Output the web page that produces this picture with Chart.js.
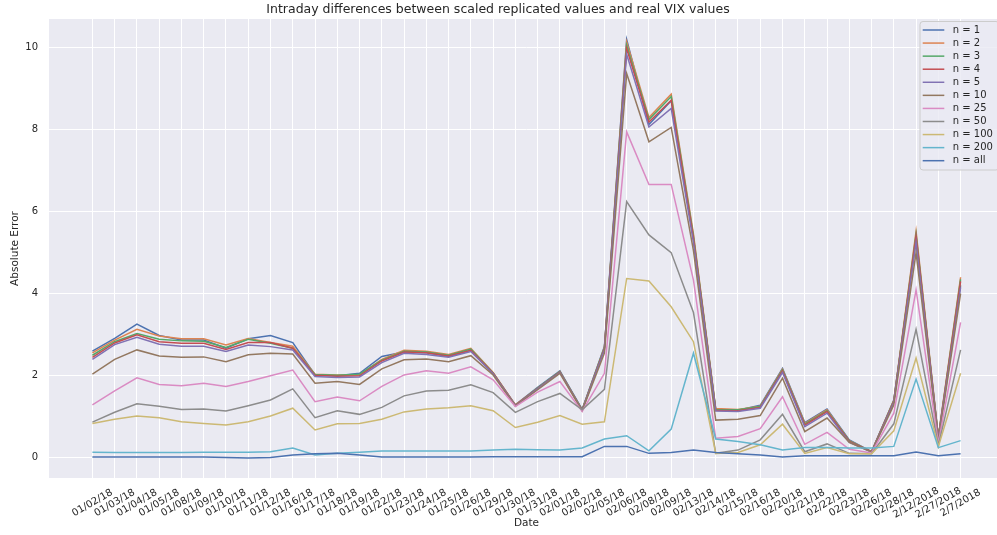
<!DOCTYPE html>
<html>
<head>
<meta charset="utf-8">
<script src="https://cdn.jsdelivr.net/npm/chart.js@4.4.0/dist/chart.umd.min.js"></script>
<style>
html, body { margin: 0; padding: 0; overflow: hidden; background: #ffffff; }
#wrap { width: 1010px; height: 535px; position: relative; }
</style>
</head>
<body>
<div id="wrap"><canvas id="vixChart"></canvas></div>
<script>
// ------------------------------------------
// data
// ------------------------------------------
const dates = ["01/02/18","01/03/18","01/04/18","01/05/18","01/08/18","01/09/18","01/10/18","01/11/18",
  "01/12/18","01/16/18","01/17/18","01/18/18","01/19/18","01/22/18","01/23/18","01/24/18","01/25/18",
  "01/26/18","01/29/18","01/30/18","01/31/18","02/01/18","02/02/18","02/05/18","02/06/18","02/08/18",
  "02/09/18","02/13/18","02/14/18","02/15/18","02/16/18","02/20/18","02/21/18","02/22/18","02/23/18",
  "02/26/18","02/28/18","2/12/2018","2/27/2018","2/7/2018"];

const n1 = [2.60,2.91,3.26,2.98,2.87,2.87,2.67,2.90,2.98,2.81,2.02,2.00,2.06,2.47,2.58,2.56,2.47,2.62,2.06,1.29,
  1.72,2.12,1.18,2.71,10.19,8.12,8.70,5.35,1.18,1.16,1.28,2.18,0.86,1.19,0.44,0.15,1.41,5.35,0.50,4.20];
const n2 = [2.56,2.87,3.13,2.97,2.90,2.90,2.75,2.91,2.81,2.72,2.04,2.02,2.02,2.40,2.62,2.60,2.52,2.67,2.08,1.29,
  1.70,2.10,1.17,2.69,10.13,8.29,8.86,5.45,1.20,1.18,1.26,2.16,0.84,1.17,0.42,0.15,1.40,5.52,0.52,4.40];
const n3 = [2.50,2.83,3.03,2.89,2.85,2.84,2.69,2.89,2.79,2.67,2.03,2.01,2.04,2.38,2.60,2.58,2.50,2.65,2.07,1.28,
  1.70,2.10,1.17,2.68,10.05,8.24,8.80,5.40,1.18,1.17,1.25,2.14,0.82,1.15,0.41,0.15,1.39,5.45,0.50,4.35];
const n4 = [2.45,2.80,3.00,2.83,2.79,2.79,2.64,2.81,2.81,2.67,2.01,1.99,2.00,2.36,2.58,2.56,2.48,2.62,2.06,1.28,
  1.69,2.09,1.16,2.66,9.97,8.18,8.71,5.35,1.16,1.15,1.23,2.12,0.80,1.13,0.40,0.15,1.37,5.40,0.48,4.30];
const n5 = [2.40,2.76,2.94,2.77,2.72,2.72,2.59,2.75,2.71,2.63,1.98,1.96,1.97,2.32,2.55,2.52,2.45,2.59,2.05,1.27,
  1.68,2.08,1.16,2.63,9.83,8.06,8.51,5.25,1.14,1.13,1.21,2.08,0.76,1.09,0.38,0.14,1.35,5.25,0.46,4.15];
const n10 = [2.04,2.40,2.63,2.48,2.45,2.46,2.34,2.51,2.55,2.53,1.82,1.86,1.79,2.17,2.39,2.41,2.34,2.49,2.02,1.26,
  1.66,2.06,1.15,2.55,9.36,7.70,8.05,5.05,0.92,0.94,1.03,1.94,0.64,0.97,0.38,0.14,1.29,5.00,0.42,4.00];
const n25 = [1.29,1.63,1.95,1.79,1.76,1.82,1.74,1.86,2.00,2.14,1.37,1.48,1.39,1.74,2.02,2.12,2.06,2.22,1.90,1.25,
  1.60,1.86,1.13,2.06,7.94,6.66,6.66,4.33,0.48,0.52,0.71,1.49,0.33,0.62,0.21,0.12,1.09,4.09,0.36,3.30];
const n50 = [0.87,1.11,1.32,1.26,1.18,1.19,1.14,1.27,1.41,1.68,0.98,1.15,1.06,1.23,1.51,1.63,1.65,1.78,1.59,1.11,
  1.37,1.57,1.17,1.67,6.24,5.43,5.00,3.54,0.11,0.19,0.44,1.06,0.15,0.34,0.11,0.10,0.83,3.13,0.30,2.63];
const n100 = [0.84,0.94,1.02,0.98,0.88,0.84,0.80,0.88,1.02,1.21,0.68,0.83,0.84,0.94,1.12,1.19,1.22,1.27,1.15,0.74,
  0.87,1.03,0.82,0.88,4.37,4.31,3.68,2.83,0.11,0.13,0.32,0.82,0.11,0.25,0.10,0.10,0.66,2.43,0.27,2.06];
const n200 = [0.14,0.13,0.13,0.13,0.13,0.14,0.14,0.14,0.15,0.24,0.07,0.11,0.14,0.17,0.17,0.17,0.17,0.17,0.19,0.21,
  0.20,0.19,0.24,0.46,0.54,0.17,0.70,2.55,0.46,0.40,0.32,0.19,0.25,0.25,0.24,0.24,0.28,1.92,0.25,0.42];
const nAll = [0.02,0.02,0.02,0.02,0.02,0.02,0.01,0.00,0.01,0.07,0.10,0.11,0.07,0.02,0.02,0.02,0.02,0.02,0.03,0.03,
  0.03,0.03,0.03,0.28,0.28,0.11,0.13,0.19,0.13,0.10,0.07,0.02,0.05,0.05,0.05,0.05,0.05,0.14,0.05,0.10];

const seriesNames = ["n = 1","n = 2","n = 3","n = 4","n = 5","n = 10","n = 25","n = 50","n = 100","n = 200","n = all"];
const yTicks = [0, 2, 4, 6, 8, 10];

const allSeries = [n1, n2, n3, n4, n5, n10, n25, n50, n100, n200, nAll];

// seaborn "deep" colours, the 11th wraps back to the first
const palette = ["#4C72B0","#DD8452","#55A868","#C44E52","#8172B3","#937860",
  "#DA8BC3","#8C8C8C","#CCB974","#64B5CD","#4C72B0"];

const textColor = "#262626";
const fontName = "DejaVu Sans";
const titleText = "Intraday differences between scaled replicated values and real VIX values";

// ------------------------------------------
// background, rotated date labels, title, legend
// ------------------------------------------
const decor = {
  id: "decor",
  beforeDraw(chart) {
    const { ctx, chartArea: a } = chart;
    ctx.save();
    ctx.fillStyle = "#EAEAF2";
    ctx.fillRect(a.left, a.top, a.right - a.left, a.bottom - a.top);
    ctx.restore();
  },
  afterDraw(chart) {
    const ctx = chart.ctx;
    const xs = chart.scales.x;
    ctx.save();
    ctx.fillStyle = textColor;
    ctx.font = "10px '" + fontName + "'";
    ctx.textAlign = "center";
    ctx.textBaseline = "middle";
    dates.forEach((d, i) => {
      ctx.save();
      ctx.translate(xs.getPixelForValue(i), 503);
      ctx.rotate(-Math.PI / 6);
      ctx.fillText(d, 0, 0);
      ctx.restore();
    });

    // title
    ctx.font = "12.5px '" + fontName + "'";
    ctx.fillText(titleText, 498, 10);

    // legend
    const bx = 920, by = 21.5, bw = 79, bh = 148.5;
    ctx.beginPath();
    ctx.roundRect(bx, by, bw, bh, 3);
    ctx.fillStyle = "rgba(234,234,242,0.8)";
    ctx.fill();
    ctx.strokeStyle = "#cccccc";
    ctx.lineWidth = 1;
    ctx.stroke();
    ctx.font = "10px '" + fontName + "'";
    ctx.textAlign = "left";
    chart.data.datasets.forEach((ds, i) => {
      const ry = 30 + i * 13.07;
      ctx.beginPath();
      ctx.moveTo(922.7, ry);
      ctx.lineTo(944.3, ry);
      ctx.strokeStyle = ds.borderColor;
      ctx.lineWidth = 1.5;
      ctx.stroke();
      ctx.fillStyle = textColor;
      ctx.fillText(ds.label, 952.7, ry);
    });
    ctx.restore();
  }
};

const ctx = document.getElementById("vixChart").getContext("2d");

new Chart(ctx, {
  type: "line",
  data: {
    datasets: allSeries.map((vals, i) => ({
      label: seriesNames[i],
      data: vals.map((v, j) => ({ x: j, y: v })),
      borderColor: palette[i],
      backgroundColor: palette[i],
      borderWidth: 1.5,
      pointRadius: 0,
      tension: 0,
      fill: false,
      order: allSeries.length - i
    }))
  },
  options: {
    responsive: true,
    maintainAspectRatio: false,
    animation: false,
    layout: { padding: { top: 19, right: 6, left: 0, bottom: 0 } },
    plugins: {
      legend: { display: false },
      tooltip: { enabled: false }
    },
    scales: {
      x: {
        type: "linear",
        min: -1.95,
        max: 40.95,
        afterBuildTicks: s => { s.ticks = dates.map((d, i) => ({ value: i })); },
        afterFit: s => { s.height = 57; },
        grid: { color: "#ffffff", lineWidth: 1, drawTicks: false },
        border: { display: false },
        ticks: { display: false },
        title: {
          display: true, text: "Date", color: textColor,
          font: { family: fontName, size: 10.5 }, padding: { top: 0, bottom: 5 }
        }
      },
      y: {
        min: -0.49,
        max: 10.69,
        afterBuildTicks: s => { s.ticks = yTicks.map(v => ({ value: v })); },
        afterFit: s => { s.width = 49; },
        grid: { color: "#ffffff", lineWidth: 1, drawTicks: false },
        border: { display: false },
        ticks: { color: textColor, font: { family: fontName, size: 10 }, padding: 11 },
        title: {
          display: true, text: "Absolute Error", color: textColor,
          font: { family: fontName, size: 10.5 }, padding: { top: 9, bottom: 0 }
        }
      }
    }
  },
  plugins: [decor]
});
</script>
</body>
</html>
